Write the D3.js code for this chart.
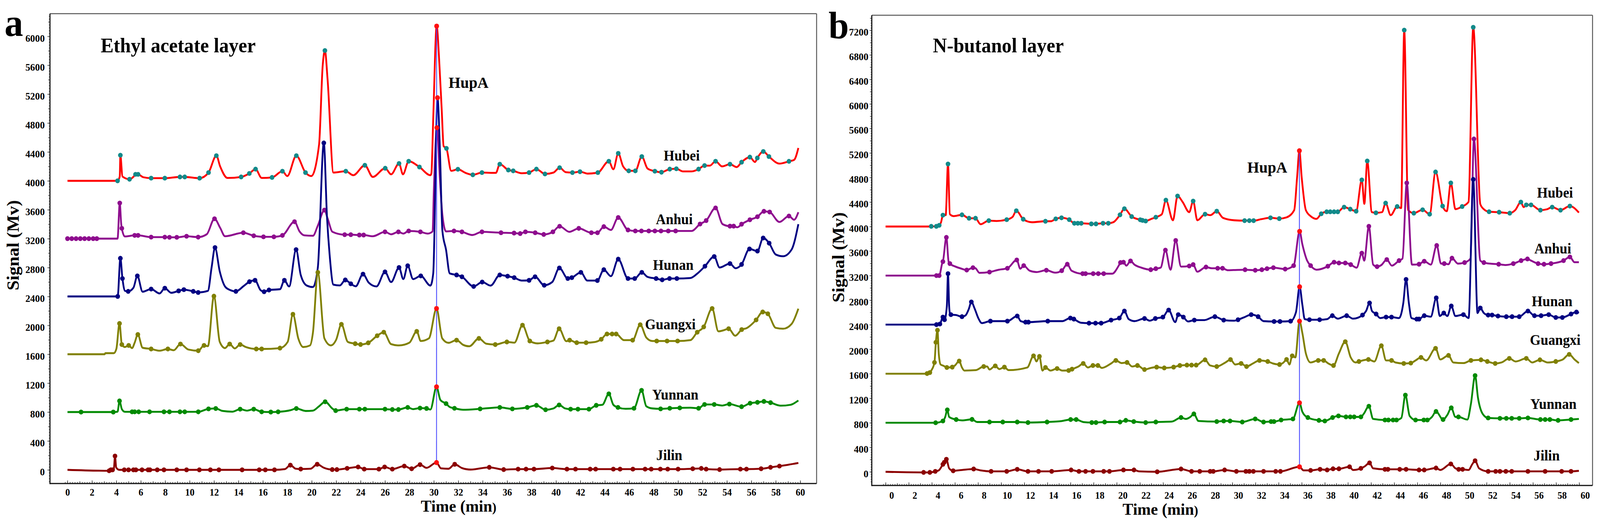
<!DOCTYPE html>
<html><head><meta charset="utf-8">
<script src="https://cdn.jsdelivr.net/npm/d3@7"></script>
<style>
html,body{margin:0;padding:0;background:#fff;overflow:hidden;width:100%;height:100%;}
svg{display:block;width:100vw;height:100vh;}
text{font-family:"Liberation Serif","Times New Roman",serif;font-weight:bold;fill:#000;}
</style>
</head><body>
<svg id="chart" viewBox="0 0 4291 1357" preserveAspectRatio="none"></svg>
<script>
// ---------------- DATA ----------------
// each point: [time (min), signal (mV), marker flag: 0 none, 1 peak dot, 2 HupA dot]
const seriesNames = ["Hubei","Anhui","Hunan","Guangxi","Yunnan","Jilin"];
const xTickLabels = [0,2,4,6,8,10,12,14,16,18,20,22,24,26,28,30,32,34,36,38,40,42,44,46,48,50,52,54,56,58,60];
const yTickLabelsA = [0,400,800,1200,1600,2000,2400,2800,3200,3600,4000,4400,4800,5200,5600,6000];
const yTickLabelsB = [0,400,800,1200,1600,2000,2400,2800,3200,3600,4000,4400,4800,5200,5600,6000,6400,6800,7200];

// ---- panel a : Ethyl acetate layer ----
const aHubei = [[0,4000,0],[4.1,4000,1],[4.28,4060,0],[4.33,4355,1],[4.5,4060,0],[5.08,4022,1],[5.5,4075,0],[5.57,4090,1],[5.78,4090,1],[6.2,4050,0],[6.85,4037,1],[7.97,4037,1],[9.21,4054,1],[9.6,4054,1],[10.82,4037,1],[11.55,4114,1],[12.19,4348,1],[12.5,4200,0],[13.1,4040,0],[14.22,4054,1],[14.89,4102,1],[15.4,4162,1],[15.9,4040,0],[16.75,4047,1],[17.6,4133,1],[18.0,4066,0],[18.74,4348,1],[19.49,4114,1],[19.96,4066,0],[20.6,4500,0],[20.9,5600,0],[21.08,5803,1],[21.3,5400,0],[21.78,4114,0],[22.79,4133,1],[23.4,4078,0],[24.35,4215,1],[25.0,4054,0],[26.02,4174,1],[26.5,4090,0],[27.15,4240,1],[27.47,4090,0],[27.94,4271,1],[28.82,4191,1],[29.72,4078,0],[29.8,4104,0],[29.95,4860,0],[30.23,6141,2],[30.45,5627,0],[30.65,4965,0],[30.8,4480,0],[31.03,4449,1],[31.42,4138,0],[31.97,4160,1],[32.6,4110,0],[33.19,4083,1],[33.94,4114,1],[35.08,4110,0],[35.4,4230,1],[36.1,4150,1],[36.5,4138,1],[37.2,4105,0],[37.8,4114,1],[38.4,4162,1],[39.1,4095,1],[39.8,4114,0],[40.3,4182,1],[40.8,4120,0],[41.35,4114,1],[41.97,4126,1],[42.6,4100,0],[43.43,4114,1],[44.33,4271,1],[44.7,4160,0],[45.1,4380,1],[45.5,4200,0],[45.96,4138,1],[46.5,4138,1],[47.03,4336,1],[47.5,4170,0],[48.1,4133,1],[48.64,4119,1],[49.32,4162,1],[49.86,4167,1],[50.4,4130,0],[51.1,4130,0],[51.68,4162,1],[52.17,4211,1],[52.6,4210,0],[53.07,4271,1],[53.6,4200,0],[54.25,4230,1],[54.8,4190,0],[55.2,4258,1],[55.88,4328,1],[56.3,4260,0],[56.49,4316,1],[56.98,4406,1],[57.44,4336,1],[58.3,4238,0],[59.08,4270,1],[59.5,4290,0],[59.85,4455,0]];
const aAnhui = [[0,3200,1],[0.35,3200,1],[0.7,3200,1],[1.05,3200,1],[1.4,3200,1],[1.75,3200,1],[2.1,3200,1],[2.4,3200,1],[4.1,3200,0],[4.28,3692,1],[4.4,3400,0],[4.45,3342,1],[4.7,3230,0],[5.5,3245,1],[5.78,3245,1],[6.85,3221,1],[7.97,3221,1],[8.35,3218,1],[8.95,3218,1],[9.75,3233,1],[10.7,3221,1],[11.4,3260,0],[12.04,3475,1],[12.5,3350,0],[12.9,3233,0],[14.4,3282,1],[15.25,3240,1],[16.05,3225,1],[16.9,3225,1],[17.6,3245,1],[18.59,3434,1],[19.0,3300,0],[19.4,3245,0],[20.1,3240,0],[20.5,3380,0],[21.04,3595,1],[21.3,3480,0],[21.7,3294,0],[22.7,3255,1],[23.2,3255,1],[23.9,3250,1],[24.25,3250,1],[25.0,3233,0],[26.0,3294,1],[26.5,3260,0],[27.1,3294,1],[27.5,3270,0],[27.94,3306,1],[28.9,3294,1],[29.5,3270,0],[29.9,3300,0],[30.0,3862,0],[30.25,4735,2],[30.5,4016,0],[30.7,3530,0],[31.0,3300,0],[31.65,3306,1],[32.3,3294,1],[33.15,3250,0],[33.94,3294,1],[35.5,3282,1],[36.57,3277,1],[37.07,3270,1],[37.5,3294,1],[38.3,3282,1],[39.0,3258,1],[39.75,3294,1],[40.3,3371,1],[41.1,3294,0],[41.87,3342,1],[42.9,3282,1],[43.4,3282,1],[43.92,3366,1],[44.5,3320,0],[45.1,3492,1],[45.9,3320,1],[46.5,3306,1],[47.0,3306,1],[47.6,3306,1],[48.1,3306,1],[48.6,3306,1],[49.2,3306,1],[49.8,3306,1],[51.1,3306,0],[51.8,3402,1],[52.3,3450,1],[53.07,3625,1],[53.65,3400,0],[54.25,3373,1],[54.55,3373,1],[54.85,3357,0],[55.2,3400,1],[55.88,3461,1],[56.5,3503,1],[57.03,3578,1],[57.5,3568,1],[58.3,3430,0],[59.08,3513,1],[59.5,3461,0],[59.85,3565,0]];
const aHunan = [[0,2400,0],[4.11,2400,1],[4.33,2928,1],[4.5,2648,1],[4.71,2477,0],[4.97,2470,1],[5.4,2520,0],[5.72,2684,1],[6.15,2465,0],[6.85,2502,1],[7.54,2441,0],[7.97,2514,1],[8.5,2450,0],[9.1,2477,1],[9.53,2494,1],[10.3,2470,1],[10.7,2455,1],[11.5,2477,0],[11.8,2800,0],[12.08,3076,1],[12.47,2745,0],[12.9,2538,0],[13.3,2490,0],[13.79,2470,1],[14.4,2540,0],[14.9,2604,1],[15.36,2623,1],[15.8,2489,0],[16.1,2465,1],[16.5,2489,1],[17.4,2500,0],[17.76,2623,1],[18.15,2538,0],[18.72,3048,1],[19.1,2697,0],[19.6,2550,0],[20.1,2530,0],[20.5,2800,0],[20.99,4524,1],[21.25,3500,0],[21.46,2989,0],[21.78,2563,0],[22.3,2552,0],[22.75,2628,1],[23.2,2575,1],[23.6,2540,0],[24.2,2709,1],[24.67,2590,0],[25.3,2538,0],[26.0,2740,1],[26.5,2599,0],[27.15,2800,1],[27.5,2640,0],[27.86,2825,1],[28.3,2640,0],[28.93,2684,1],[29.72,2550,0],[29.95,2719,0],[30.3,5150,2],[30.5,4413,0],[30.7,3310,0],[31.0,3045,0],[31.3,2719,0],[31.86,2697,1],[32.3,2672,1],[33.26,2538,1],[33.96,2599,1],[34.65,2550,0],[35.4,2697,1],[36.04,2680,1],[36.58,2660,1],[37.2,2620,0],[37.8,2623,1],[38.29,2672,1],[39.04,2555,1],[39.7,2600,0],[40.28,2794,1],[40.97,2648,1],[41.3,2660,1],[42.04,2733,1],[42.57,2620,0],[43.39,2620,1],[43.92,2770,1],[44.5,2680,0],[45.1,2916,1],[45.9,2648,1],[46.45,2648,1],[47.03,2733,1],[47.5,2670,0],[48.2,2648,1],[48.7,2630,1],[49.3,2648,1],[49.9,2648,1],[51.0,2655,0],[51.6,2720,0],[52.2,2818,1],[52.96,2952,1],[53.4,2800,0],[54.25,2855,1],[54.7,2790,0],[55.2,2843,1],[55.85,3057,1],[56.5,3028,1],[56.97,3209,1],[57.46,3137,1],[58.0,2980,0],[58.6,2956,0],[59.3,3050,0],[59.85,3400,0]];
const aGuangxi = [[0,1600,0],[3.04,1600,0],[3.1,1615,0],[3.79,1615,0],[4.0,1673,0],[4.26,2026,1],[4.45,1734,1],[4.7,1700,0],[5.01,1722,1],[5.29,1685,0],[5.5,1760,0],[5.76,1873,1],[6.15,1690,0],[6.85,1673,1],[7.54,1649,0],[8.22,1673,1],[8.7,1655,0],[9.25,1741,1],[9.9,1665,0],[10.71,1649,1],[11.18,1722,1],[11.5,1712,0],[11.99,2404,1],[12.47,1770,0],[12.9,1685,0],[13.28,1741,1],[13.7,1680,0],[14.14,1734,1],[14.6,1700,0],[15.46,1673,1],[15.9,1673,1],[17.4,1685,1],[18.03,1770,0],[18.46,2153,1],[18.9,1819,0],[19.3,1700,0],[19.86,1722,0],[20.1,1900,0],[20.5,2733,1],[21.04,1819,0],[21.57,1722,0],[22.0,1800,0],[22.43,2014,1],[22.96,1770,0],[23.56,1746,1],[24.0,1735,1],[24.63,1758,1],[25.36,1856,1],[25.9,1905,1],[26.5,1740,0],[27.15,1722,0],[28.0,1760,0],[28.6,1917,1],[28.93,1783,0],[29.6,1820,0],[30.22,2233,2],[30.69,1819,0],[31.2,1758,0],[31.86,1795,1],[32.4,1730,0],[32.9,1710,0],[33.69,1819,1],[34.3,1745,0],[35.03,1734,1],[35.98,1770,1],[36.6,1760,0],[37.26,2002,1],[37.86,1783,1],[38.5,1750,0],[39.3,1770,1],[39.8,1790,0],[40.26,1953,1],[40.85,1780,0],[41.12,1795,1],[41.7,1760,1],[42.47,1760,1],[43.2,1770,0],[43.71,1807,1],[44.18,1880,1],[44.6,1880,1],[44.93,1880,1],[45.57,1795,0],[46.28,1795,1],[46.9,2009,1],[47.4,1831,0],[47.9,1783,0],[48.25,1783,1],[49.1,1783,1],[49.96,1783,1],[51.0,1795,0],[51.57,1905,1],[52.1,1978,1],[52.79,2233,1],[53.3,1917,0],[53.7,1930,0],[54.14,1953,1],[54.68,1856,0],[55.21,1941,1],[55.6,1960,0],[56.39,2075,1],[56.93,2185,1],[57.35,2160,1],[58.0,1965,0],[58.6,1953,0],[59.3,2020,0],[59.85,2230,0]];
const aYunnan = [[0,800,0],[1.11,800,1],[3.75,800,1],[4.1,805,0],[4.26,954,1],[4.45,840,0],[4.7,803,0],[5.29,803,1],[5.5,803,1],[5.83,803,1],[6.72,803,1],[7.9,803,1],[8.35,803,1],[9.21,803,1],[9.6,803,1],[10.71,803,1],[11.55,844,1],[12.14,849,1],[12.7,815,0],[13.5,805,0],[14.14,840,1],[14.7,820,0],[15.25,840,1],[15.9,803,1],[16.65,800,1],[17.25,803,1],[18.25,825,0],[18.74,849,1],[19.5,815,0],[20.1,820,0],[20.6,880,0],[21.1,942,1],[21.68,850,0],[21.96,820,1],[22.86,840,1],[23.9,840,1],[24.35,840,1],[26.0,840,1],[26.6,835,1],[27.1,835,1],[27.86,864,1],[28.3,840,0],[28.87,855,1],[29.4,850,1],[29.72,835,0],[30.22,1149,2],[30.54,966,0],[31.0,917,1],[31.3,870,0],[31.69,852,1],[32.4,832,0],[33.79,844,1],[35.4,864,1],[36.43,844,1],[37.65,864,1],[38.4,893,1],[39.15,832,1],[39.8,850,0],[40.26,898,1],[40.75,850,0],[41.2,840,1],[41.8,840,1],[42.7,840,1],[43.3,893,1],[43.8,900,0],[44.33,1052,1],[44.7,900,0],[45.08,864,1],[45.7,845,0],[46.39,852,1],[47.01,1100,1],[47.4,880,0],[47.9,850,0],[48.57,844,1],[49.32,852,1],[50.14,857,1],[51.0,860,0],[51.68,852,1],[52.17,905,1],[52.96,905,1],[53.6,890,0],[54.2,910,1],[55.2,874,1],[55.9,922,1],[56.5,934,1],[57.03,947,1],[57.57,930,1],[58.4,888,0],[59.2,900,0],[59.85,960,0]];
const aJilin = [[0,0,0],[3.41,-13,1],[3.55,0,1],[3.69,0,1],[3.8,20,0],[3.89,191,1],[3.99,32,0],[4.25,0,0],[4.65,0,1],[5.0,0,1],[5.4,0,1],[5.6,0,1],[6.1,0,1],[6.6,0,1],[6.75,0,1],[7.35,0,1],[7.9,0,1],[8.95,0,1],[9.75,0,1],[10.8,0,1],[11.7,0,1],[12.4,0,1],[14.3,0,1],[15.7,0,1],[16.2,0,1],[16.95,0,1],[17.8,10,0],[18.25,65,1],[18.7,15,0],[19.1,11,1],[19.9,15,0],[20.45,77,1],[21.0,28,0],[21.68,4,1],[22.06,4,1],[22.9,21,1],[23.8,40,1],[24.3,10,1],[25.5,10,1],[25.97,40,1],[26.6,10,1],[27.58,52,1],[28.18,15,1],[28.87,72,1],[29.4,28,0],[30.22,101,2],[30.58,21,0],[31.2,15,0],[31.71,77,1],[32.3,25,0],[33.0,4,0],[34.54,35,1],[35.72,4,1],[36.9,10,1],[37.55,10,1],[38.2,10,1],[39.7,25,1],[40.9,10,1],[41.6,10,1],[42.8,10,1],[43.25,10,1],[44.7,10,1],[45.25,10,1],[46.3,10,1],[47.3,10,1],[47.8,10,1],[48.55,10,1],[49.15,10,1],[50.0,10,1],[51.2,15,1],[51.9,20,1],[52.3,10,1],[53.4,4,1],[55.1,10,1],[55.6,10,1],[56.8,15,1],[57.57,35,1],[58.3,52,1],[59.0,70,0],[59.85,95,0]];

// ---- panel b : N-butanol layer ----
const bHubei = [[0,4000,0],[3.69,4000,0],[3.95,4003,1],[4.39,4003,1],[4.64,4020,1],[4.8,4070,0],[4.96,4185,1],[5.2,4185,0],[5.4,5020,1],[5.56,4201,0],[5.9,4170,0],[6.61,4191,1],[7.22,4135,1],[7.78,4135,1],[8.22,4037,0],[8.93,4096,1],[9.6,4090,0],[10.48,4112,1],[11.0,4160,0],[11.31,4257,1],[11.91,4119,1],[12.65,4070,0],[13.83,4086,1],[14.3,4086,0],[14.72,4125,1],[15.22,4142,1],[15.89,4112,1],[16.33,4053,1],[16.63,4053,1],[16.93,4053,1],[17.8,4043,1],[18.2,4043,1],[18.81,4053,1],[19.27,4053,1],[19.7,4070,0],[20.28,4191,1],[20.66,4290,1],[21.29,4162,1],[22.03,4110,1],[22.23,4100,1],[22.5,4090,1],[22.94,4120,0],[23.38,4152,1],[23.9,4200,0],[24.25,4431,1],[24.86,4102,0],[25.26,4497,1],[25.7,4400,0],[26.27,4234,0],[26.61,4415,1],[26.97,4102,0],[27.64,4201,1],[28.1,4185,0],[28.65,4250,1],[29.2,4140,0],[30.16,4102,0],[31.06,4096,1],[31.47,4096,1],[31.84,4096,1],[32.5,4120,0],[33.3,4142,1],[34.06,4129,1],[34.7,4150,0],[35.35,4267,0],[35.6,4800,0],[35.8,5235,2],[36.0,4800,0],[36.36,4267,0],[36.8,4165,0],[37.28,4125,0],[37.69,4208,1],[38.16,4240,1],[38.47,4240,1],[38.8,4240,1],[39.12,4240,1],[39.67,4316,1],[40.2,4283,1],[40.71,4250,1],[41.2,4760,1],[41.42,4370,0],[41.67,5069,1],[42.07,4234,0],[42.42,4224,1],[42.95,4234,0],[43.26,4382,1],[43.7,4185,0],[44.26,4326,1],[44.6,4300,0],[44.87,7203,1],[45.2,4270,0],[45.7,4218,1],[46.46,4273,1],[47.07,4201,1],[47.58,4890,1],[48.19,4333,1],[48.55,4250,0],[48.9,4711,1],[49.3,4283,0],[49.88,4326,1],[50.43,4400,0],[50.84,7249,1],[51.45,4366,0],[51.75,4283,0],[52.21,4241,1],[53.08,4234,1],[54.0,4218,1],[54.47,4267,0],[54.96,4399,1],[55.2,4316,0],[55.43,4353,1],[55.84,4353,1],[56.65,4267,1],[57.2,4280,0],[57.67,4316,1],[58.39,4267,1],[59.2,4333,1],[59.98,4227,0]];
const bAnhui = [[0,3200,0],[4.4,3200,1],[4.64,3200,1],[4.9,3400,0],[4.96,3428,1],[5.26,3823,1],[5.45,3430,0],[5.56,3395,1],[6.0,3350,0],[6.61,3310,0],[7.02,3290,1],[7.56,3329,1],[7.78,3320,0],[8.12,3245,0],[8.99,3257,1],[9.8,3296,0],[10.54,3319,1],[11.35,3454,1],[11.65,3312,0],[11.95,3362,1],[12.46,3280,0],[13.06,3257,0],[13.91,3287,1],[14.67,3247,0],[15.24,3280,1],[15.72,3385,1],[16.09,3280,0],[17.05,3231,1],[17.3,3231,1],[17.96,3231,1],[18.4,3231,1],[18.87,3231,1],[19.6,3231,0],[20.22,3379,0],[20.32,3412,1],[20.58,3418,1],[20.83,3362,0],[21.19,3438,1],[21.53,3379,0],[22.13,3329,0],[22.94,3296,1],[23.38,3313,1],[23.8,3330,0],[24.21,3615,1],[24.65,3296,0],[25.1,3773,1],[25.56,3346,0],[26.27,3356,1],[26.61,3379,1],[26.97,3263,0],[27.72,3339,1],[28.22,3319,0],[28.73,3319,1],[29.15,3319,1],[29.6,3287,0],[30.1,3290,0],[31.1,3296,1],[31.98,3287,1],[32.55,3296,1],[33.0,3313,1],[33.55,3329,1],[34.57,3306,1],[35.3,3362,1],[35.82,3921,2],[36.06,3708,0],[36.47,3444,0],[36.77,3362,1],[37.28,3296,0],[38.26,3352,1],[38.8,3418,1],[39.22,3405,1],[39.77,3405,1],[40.24,3379,1],[40.75,3329,0],[41.2,3566,1],[41.41,3444,0],[41.81,4004,1],[42.18,3379,0],[42.52,3346,1],[42.89,3372,0],[43.36,3461,1],[43.8,3362,0],[44.42,3444,1],[44.72,3477,0],[45.09,4711,1],[45.54,3379,0],[46.15,3385,1],[46.6,3434,1],[47.17,3379,0],[47.68,3691,1],[48.05,3395,0],[48.33,3395,1],[48.7,3385,0],[49.0,3484,1],[49.52,3395,0],[50.09,3412,1],[50.6,3477,0],[50.9,5428,1],[51.45,3444,0],[51.76,3412,1],[52.27,3395,0],[53.04,3385,1],[53.6,3372,0],[54.31,3395,1],[54.98,3444,1],[55.53,3471,1],[55.84,3444,0],[56.45,3395,1],[56.96,3385,1],[57.57,3395,1],[58.65,3444,1],[59.2,3504,1],[59.6,3418,0],[59.98,3418,0]];
const bHunan = [[0,2400,0],[4.4,2400,1],[4.7,2410,1],[4.96,2523,1],[5.1,2480,1],[5.3,2700,0],[5.4,3231,1],[5.5,2700,0],[5.56,2589,0],[5.65,2563,1],[6.1,2556,0],[6.61,2530,1],[6.91,2549,0],[7.2,2655,0],[7.42,2770,1],[7.72,2655,0],[8.02,2507,0],[8.33,2425,0],[9.07,2457,1],[10.54,2457,1],[11.39,2540,1],[11.69,2457,0],[12.11,2441,1],[12.36,2441,1],[14.03,2457,1],[15.28,2457,0],[15.99,2507,1],[16.29,2490,1],[16.9,2431,0],[17.6,2424,1],[18.16,2424,1],[18.65,2424,1],[19.51,2474,1],[20.22,2507,1],[20.66,2622,1],[21.03,2490,0],[21.53,2457,0],[22.4,2500,1],[22.84,2464,0],[23.34,2500,1],[23.99,2523,1],[24.49,2638,1],[25.06,2441,0],[25.32,2563,1],[25.76,2523,1],[26.17,2451,0],[26.71,2474,1],[27.58,2474,0],[28.49,2530,1],[29.25,2474,1],[30.16,2464,0],[30.49,2480,1],[31.06,2523,0],[31.63,2563,1],[32.23,2530,1],[32.7,2457,0],[33.61,2451,1],[34.12,2451,1],[35.04,2457,1],[35.5,2600,0],[35.82,3017,2],[36.06,2720,0],[36.26,2490,0],[36.67,2480,1],[37.55,2480,1],[38.2,2490,0],[38.65,2546,1],[39.12,2497,0],[39.89,2546,1],[40.44,2497,0],[41.26,2556,1],[41.57,2622,0],[41.87,2753,1],[42.08,2622,0],[42.44,2573,1],[42.79,2507,0],[43.3,2523,1],[43.77,2523,1],[44.42,2507,0],[44.79,2753,0],[45.03,3138,1],[45.27,2753,0],[45.5,2507,0],[45.95,2490,1],[46.15,2490,1],[46.6,2546,1],[47.17,2530,0],[47.64,2836,1],[47.95,2540,0],[48.29,2589,1],[48.6,2540,0],[48.94,2704,1],[49.3,2540,0],[49.99,2563,1],[50.44,2507,0],[50.84,4769,1],[51.21,2589,0],[51.45,2671,1],[51.76,2589,0],[52.13,2556,1],[52.47,2556,1],[52.98,2540,1],[53.7,2530,1],[54.2,2530,1],[54.82,2530,1],[55.57,2622,1],[56.14,2546,1],[56.71,2546,1],[57.37,2563,1],[57.98,2517,1],[58.55,2517,1],[59.3,2573,1],[59.77,2605,1],[59.98,2590,0]];
const bGuangxi = [[0,1600,0],[3.49,1600,0],[3.59,1602,1],[3.83,1618,1],[3.95,1650,0],[4.23,1783,1],[4.35,2112,1],[4.49,2309,1],[4.6,1930,0],[4.76,1750,0],[5.0,1730,0],[5.3,1701,1],[5.77,1707,1],[6.0,1734,0],[6.37,1806,1],[6.61,1701,0],[6.81,1651,0],[7.82,1658,0],[8.49,1717,1],[8.79,1717,0],[8.99,1668,0],[9.49,1727,1],[9.84,1675,0],[10.28,1707,1],[10.64,1658,0],[12.26,1701,0],[12.8,1891,1],[13.06,1800,0],[13.31,1882,1],[13.57,1651,0],[13.83,1701,1],[14.27,1651,0],[14.84,1684,1],[15.28,1651,0],[15.84,1652,1],[16.13,1674,1],[16.69,1717,0],[17.1,1767,1],[17.5,1701,0],[17.94,1734,1],[18.37,1734,1],[18.71,1694,0],[19.51,1767,0],[19.92,1816,1],[20.42,1773,0],[20.89,1783,1],[21.33,1717,0],[21.79,1734,1],[22.4,1668,1],[22.94,1694,0],[23.45,1707,1],[24.11,1694,1],[24.92,1707,1],[25.46,1734,1],[26.07,1740,1],[26.47,1740,1],[26.87,1740,1],[27.64,1826,1],[28.08,1734,0],[28.65,1717,1],[29.4,1783,0],[29.84,1830,1],[30.25,1750,0],[30.76,1767,1],[31.23,1717,1],[31.78,1767,0],[32.35,1816,1],[33.06,1799,1],[33.51,1767,0],[34.08,1750,1],[34.43,1783,0],[34.69,1832,1],[34.94,1750,0],[35.18,1891,1],[35.45,1865,0],[35.81,2457,2],[36.06,2260,0],[36.36,1931,0],[36.77,1783,0],[37.43,1816,1],[37.9,1816,1],[38.3,1767,0],[38.75,1734,1],[39.22,1931,0],[39.77,2122,1],[40.24,1865,0],[40.65,1783,0],[40.95,1799,1],[41.77,1832,1],[42.28,1799,0],[42.89,2056,1],[43.3,1816,0],[43.77,1816,1],[44.11,1783,0],[44.83,1767,1],[45.44,1773,1],[45.85,1816,0],[46.32,1865,1],[46.77,1816,0],[47.58,2013,1],[47.99,1832,0],[48.7,1898,1],[49.11,1783,0],[50.0,1773,0],[50.64,1816,1],[51.51,1826,1],[52.06,1799,1],[52.74,1767,1],[53.29,1783,0],[53.96,1849,1],[54.51,1799,0],[55.43,1849,1],[55.94,1783,0],[56.61,1826,1],[57.27,1783,0],[57.98,1799,1],[58.59,1832,0],[59.14,1915,1],[59.6,1832,0],[59.98,1773,0]];
const bYunnan = [[0,800,0],[4.33,800,1],[4.96,829,1],[5.16,895,0],[5.34,1010,1],[5.5,895,0],[6.11,852,1],[6.61,839,0],[7.48,855,1],[7.92,812,0],[8.99,812,1],[10.14,812,1],[11.39,812,1],[12.32,803,1],[13.97,812,1],[15.28,829,0],[16.01,852,1],[16.49,852,1],[17.1,812,0],[17.84,803,1],[18.2,803,1],[18.95,812,1],[20.28,812,1],[20.78,839,1],[21.47,819,1],[22.5,803,1],[23.38,812,1],[24.76,819,0],[25.56,885,1],[25.97,862,0],[26.37,895,0],[26.67,944,1],[27.07,829,0],[28.65,819,1],[29.25,829,1],[29.8,829,1],[30.86,812,1],[31.98,862,1],[32.7,812,1],[33.35,819,1],[33.6,819,1],[34.22,845,1],[35.24,862,1],[35.81,1125,2],[36.06,977,0],[36.53,885,1],[37.49,839,1],[38.0,829,1],[38.67,885,1],[39.18,911,1],[39.83,895,1],[40.2,895,1],[40.54,895,1],[41.12,895,1],[41.36,944,0],[41.81,1069,1],[42.18,862,0],[43.2,845,1],[43.5,845,1],[43.9,845,1],[44.2,845,1],[44.62,878,0],[44.97,1250,1],[45.34,911,0],[45.85,845,1],[46.56,845,1],[46.87,845,1],[47.27,895,0],[47.62,984,1],[48.23,852,1],[48.6,928,0],[48.94,1043,1],[49.3,895,0],[49.56,895,1],[50.33,852,0],[50.64,1109,0],[51.0,1569,1],[51.25,1207,0],[51.66,944,0],[52.13,878,1],[53.15,872,1],[53.7,872,1],[54.17,872,1],[54.82,872,1],[55.57,878,1],[56.65,852,1],[57.06,852,1],[57.47,852,1],[58.18,839,1],[59.3,852,1],[59.98,862,0]];
const bJilin = [[0,0,0],[3.29,-10,1],[3.83,-10,1],[4.3,7,1],[4.6,23,0],[4.96,122,1],[5.08,155,1],[5.26,204,1],[5.5,56,0],[5.85,16,1],[6.61,30,0],[7.62,46,1],[8.22,23,0],[9.13,7,1],[10.48,7,1],[11.39,40,1],[12.32,7,1],[13.23,7,1],[14.37,7,1],[16.05,30,1],[16.73,7,1],[17.3,7,1],[17.94,7,1],[18.87,7,1],[19.37,7,1],[20.58,30,1],[21.49,30,1],[21.93,7,0],[23.5,0,1],[25.56,46,1],[26.47,7,1],[27.18,7,1],[28.08,7,1],[28.35,7,1],[29.33,30,1],[30.35,7,1],[31.17,7,1],[31.47,7,1],[31.82,7,1],[32.7,7,1],[33.75,7,1],[34.16,7,1],[35.81,82,2],[36.16,23,0],[36.77,23,1],[37.59,40,1],[38.2,30,1],[38.71,49,1],[39.22,49,1],[40.14,82,1],[40.44,30,0],[41.12,56,1],[41.46,89,0],[41.87,145,1],[42.18,56,0],[43.2,40,1],[43.46,40,1],[44.48,40,1],[45.03,40,1],[46.15,30,1],[46.6,30,1],[47.62,62,1],[47.99,30,0],[48.9,128,1],[49.3,56,0],[49.58,40,1],[49.92,40,1],[50.44,30,0],[50.75,122,0],[51.0,181,1],[51.35,56,0],[52.13,7,1],[52.78,7,1],[53.15,7,1],[53.66,7,1],[54.17,7,1],[55.57,7,1],[57.06,7,1],[58.49,7,1],[59.3,7,1],[59.98,16,0]];

// ---------------- STYLE / LAYOUT ----------------
const lineColors   = {Hubei:"#ff0000", Anhui:"#8e0c8e", Hunan:"#000082", Guangxi:"#808000", Yunnan:"#008a00", Jilin:"#8c0000"};
const markerColors = {Hubei:"#128a8a", Anhui:"#8e0c8e", Hunan:"#000082", Guangxi:"#808000", Yunnan:"#008a00", Jilin:"#8c0000"};
const hupaColor = "#ff1010";

const panels = [
  { letter:"a", title:"Ethyl acetate layer", yTicks:yTickLabelsA, yMax:6000,
    xr:[181,2146], yr:[1203,93], frame:{l:134,r:2190,t:35,b:1238},
    data:{Hubei:aHubei,Anhui:aAnhui,Hunan:aHunan,Guangxi:aGuangxi,Yunnan:aYunnan,Jilin:aJilin},
    letterPos:[12,92,100], titlePos:[270,134], hupaPos:[1203,225],
    labels:{Hubei:[1780,411],Anhui:[1759,574],Hunan:[1751,691],Guangxi:[1730,843],Yunnan:[1749,1023],Jilin:[1760,1178]},
    timePos:[1230,1310], signalPos:[50,628], yTickSize:7, yTickPad:7, xLabelY:31, xLabelDx:0 },
  { letter:"b", title:"N-butanol layer", yTicks:yTickLabelsB, yMax:7200,
    xr:[2375,4235], yr:[1208,1208-7200*0.157], frame:{l:2338,r:4271,t:39,b:1243},
    data:{Hubei:bHubei,Anhui:bAnhui,Hunan:bHunan,Guangxi:bGuangxi,Yunnan:bYunnan,Jilin:bJilin},
    letterPos:[2222,98,98], titlePos:[2502,134], hupaPos:[3345,442],
    labels:{Hubei:[4122,506],Anhui:[4115,649],Hunan:[4108,784],Guangxi:[4103,883],Yunnan:[4104,1047],Jilin:[4113,1179]},
    timePos:[3112,1318], signalPos:[2264,659], yTickSize:6, yTickPad:3, xLabelY:34, xLabelDx:16 }
];

const svg = d3.select("#chart");
svg.append("rect").attr("width",4291).attr("height",1357).attr("fill","#fff");
const fontFam = "'Liberation Serif','Times New Roman',serif";

panels.forEach(p => {
  const x = d3.scaleLinear().domain([0,60]).range(p.xr);
  const y = d3.scaleLinear().domain([0,p.yMax]).range(p.yr);
  const f = p.frame;
  const g = svg.append("g");

  // --- y axis ticks ---
  const yMin = y.invert(f.b-4), yTop = y.invert(f.t+4);
  const minorY = d3.range(Math.ceil(yMin/40)*40, yTop, 40);
  const midY = d3.range(Math.ceil(yMin/200)*200, yTop, 200);
  const ya = g.append("g").attr("transform",`translate(${f.l},0)`);
  ya.append("g").attr("class","minor").call(d3.axisLeft(y).tickValues(minorY).tickSize(3).tickFormat(""));
  ya.append("g").attr("class","minor").call(d3.axisLeft(y).tickValues(midY).tickSize(5).tickFormat(""));
  ya.selectAll(".minor text").remove();
  ya.append("g").attr("class","ymaj").call(d3.axisLeft(y).tickValues(p.yTicks).tickSize(p.yTickSize).tickPadding(p.yTickPad).tickFormat(d3.format("d")));
  ya.selectAll(".domain").remove();
  ya.selectAll("line").attr("stroke","#555").attr("stroke-width",1.6);
  ya.selectAll(".ymaj text").attr("font-size",26).attr("dy","0.5em").attr("font-family",null)
    .style("font-family",fontFam).style("font-weight","bold").attr("fill","#000");

  // --- x axis ticks (inward) ---
  const minorX = d3.range(-0.2, 60.01, 0.2);
  const midX = d3.range(0, 60.01, 1);
  const xa = g.append("g").attr("transform",`translate(0,${f.b})`);
  xa.append("g").attr("class","minor").call(d3.axisBottom(x).tickValues(minorX).tickSize(-4).tickFormat(""));
  xa.append("g").attr("class","minor").call(d3.axisBottom(x).tickValues(midX).tickSize(-6).tickFormat(""));
  xa.selectAll(".minor text").remove();
  xa.append("g").attr("class","xmaj").call(d3.axisBottom(x).tickValues(xTickLabels).tickSize(-8).tickFormat(d3.format("d")));
  xa.selectAll(".domain").remove();
  xa.selectAll("line").attr("stroke","#444").attr("stroke-width",1.6);
  xa.selectAll(".xmaj text").attr("y",p.xLabelY).attr("dy",0).attr("dx",p.xLabelDx).attr("font-size",25)
    .attr("font-family",null).style("font-family",fontFam).style("font-weight","bold").attr("fill","#000");

  // --- frame ---
  g.append("line").attr("x1",f.l).attr("x2",f.r).attr("y1",f.t).attr("y2",f.t).attr("stroke","#555").attr("stroke-width",2.5);
  g.append("line").attr("x1",f.r).attr("x2",f.r).attr("y1",f.t).attr("y2",f.b).attr("stroke","#555").attr("stroke-width",2.5);
  g.append("line").attr("x1",f.l).attr("x2",f.l).attr("y1",f.t).attr("y2",f.b+1.5).attr("stroke","#111").attr("stroke-width",3);
  g.append("line").attr("x1",f.l).attr("x2",f.r).attr("y1",f.b).attr("y2",f.b).attr("stroke","#111").attr("stroke-width",3);

  // --- traces ---
  const line = d3.line().x(d=>x(d[0])).y(d=>y(d[1])).curve(d3.curveMonotoneX);
  const order = ["Hubei","Anhui","Hunan","Guangxi","Yunnan","Jilin"];
  order.forEach(name => {
    const data = p.data[name];
    g.append("path").datum(data).attr("d",line).attr("fill","none")
      .attr("stroke",lineColors[name]).attr("stroke-width",4.8).attr("stroke-linejoin","round");
    g.append("g").selectAll("circle").data(data.filter(d=>d[2]===1)).join("circle")
      .attr("cx",d=>x(d[0])).attr("cy",d=>y(d[1])).attr("r",6.2).attr("fill",markerColors[name]);
  });

  // --- HupA reference line & markers ---
  const topPt = p.data.Hubei.find(d=>d[2]===2);
  const botPt = p.data.Jilin.find(d=>d[2]===2);
  g.append("line").attr("x1",x(botPt[0])).attr("x2",x(topPt[0]))
    .attr("y1",y(botPt[1])).attr("y2",y(topPt[1]))
    .attr("stroke","#4444ff").attr("stroke-width",2.2);
  const hupa = seriesNames.map(n => p.data[n].find(d=>d[2]===2)).filter(Boolean);
  g.append("g").selectAll("circle").data(hupa).join("circle")
    .attr("cx",d=>x(d[0])).attr("cy",d=>y(d[1])).attr("r",6.5).attr("fill",hupaColor);

  // --- texts ---
  g.append("text").attr("x",p.letterPos[0]).attr("y",p.letterPos[1]).attr("font-size",p.letterPos[2]).text(p.letter);
  g.append("text").attr("x",p.titlePos[0]).attr("y",p.titlePos[1]).attr("font-size",52).text(p.title);
  g.append("text").attr("x",p.hupaPos[0]).attr("y",p.hupaPos[1]).attr("font-size",41).text("HupA");
  seriesNames.forEach(n => {
    g.append("text").attr("x",p.labels[n][0]).attr("y",p.labels[n][1]).attr("font-size",37).text(n);
  });
  const t = g.append("text").attr("x",p.timePos[0]).attr("y",p.timePos[1]).attr("font-size",43).attr("text-anchor","middle");
  t.append("tspan").text("Time (min");
  t.append("tspan").attr("font-size",34).text(")");
  g.append("text").attr("transform",`translate(${p.signalPos[0]},${p.signalPos[1]}) rotate(-90)`)
    .attr("font-size",46).attr("text-anchor","middle").text("Signal (Mv)");
});
</script>
</body></html>
